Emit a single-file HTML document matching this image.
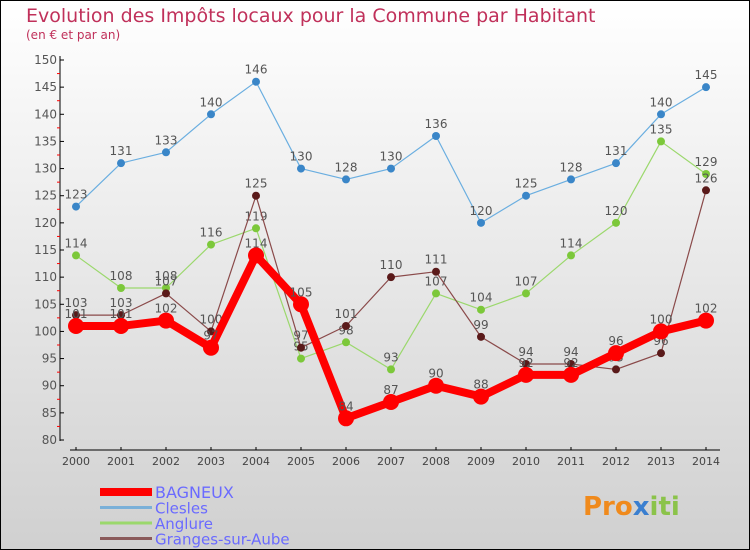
<!DOCTYPE html>
<html><head><meta charset="utf-8"><style>
body{margin:0}
svg{display:block;font-family:"DejaVu Sans","Liberation Sans",sans-serif}
</style></head><body>
<svg width="750" height="550">
<defs><linearGradient id="bg" x1="0" y1="0" x2="0" y2="1"><stop offset="0" stop-color="#ffffff"/><stop offset="1" stop-color="#d0d0d0"/></linearGradient></defs>
<rect x="0.5" y="0.5" width="749" height="549" fill="url(#bg)" stroke="#000"/>
<text x="26" y="22" font-size="19" fill="#c0305a">Evolution des Impôts locaux pour la Commune par Habitant</text>
<text x="26" y="39" font-size="12" fill="#c0305a">(en € et par an)</text>
<g id="axes"></g><g id="series"></g><g id="legend"></g>
<text x="583" y="515" font-size="26" font-weight="bold" fill="#f08a1c">Pro<tspan fill="#3a7fd0">x</tspan><tspan fill="#8bc34a">iti</tspan></text>
</svg>
<script>
const years=[2000,2001,2002,2003,2004,2005,2006,2007,2008,2009,2010,2011,2012,2013,2014];
const yTicks=[80,85,90,95,100,105,110,115,120,125,130,135,140,145,150];
const bagneux=[101,101,102,97,114,105,84,87,90,88,92,92,96,100,102];
const clesles=[123,131,133,140,146,130,128,130,136,120,125,128,131,140,145];
const anglure=[114,108,108,116,119,95,98,93,107,104,107,114,120,135,129];
const granges=[103,103,107,100,125,97,101,110,111,99,94,94,93,96,126];
const NS="http://www.w3.org/2000/svg";
const X=i=>76+i*45;
const Y=v=>440-(v-80)*(380/70);
function mk(t,a,p){const e=document.createElementNS(NS,t);for(const k in a)e.setAttribute(k,a[k]);p.appendChild(e);return e;}
const ax=document.getElementById('axes');
let yl=mk('line',{x1:60,y1:56,x2:60,y2:441,stroke:'#000'},ax);


yTicks.forEach(v=>{
 mk('line',{x1:60,y1:Y(v),x2:64,y2:Y(v),stroke:'#000'},ax);
 if(v<150)mk('line',{x1:57,y1:Y(v+2.5),x2:60,y2:Y(v+2.5),stroke:'#f00'},ax);
 const t=mk('text',{x:57,y:Y(v)+4,'font-size':12,'text-anchor':'end',fill:'#555'},ax);t.textContent=v;
 
 
});
let xl=mk('line',{x1:70,y1:450,x2:720,y2:450,stroke:'#000'},ax);


years.forEach((y,i)=>{
 mk('line',{x1:X(i),y1:447,x2:X(i),y2:450,stroke:'#000'},ax);
 const t=mk('text',{x:X(i),y:465,'font-size':11,'text-anchor':'middle',fill:'#444'},ax);t.textContent=y;
 
 
});
const sg=document.getElementById('series');
function series(name,vals,col,w,r,dot){
 const g=mk('g',{},sg);
 
 
 mk('polyline',{points:vals.map((v,i)=>X(i)+','+Y(v)).join(' '),fill:'none',stroke:col,'stroke-width':w,'stroke-linejoin':'round'},g);
 vals.forEach((v,i)=>{
  const c=mk('circle',{cx:X(i),cy:Y(v),r:r,fill:dot},g);
  
  
  const t=mk('text',{x:X(i),y:Y(v)-8,'font-size':12,'text-anchor':'middle',fill:'#555'},g);t.textContent=v;
 });
}
series('clesles',clesles,'#6aaee0',1.2,4,'#3a86c8');
series('anglure',anglure,'#9bd86c',1.2,4,'#7cc83a');
series('granges',granges,'#8a4a4a',1.2,4,'#5a1a1a');
series('bagneux',bagneux,'#f00',8,8,'#f00');
const lg=document.getElementById('legend');
[['BAGNEUX','#f00',8],['Clesles','#7ab0d8',3],['Anglure','#9bd86c',3],['Granges-sur-Aube','#8a5a5a',3]].forEach((d,i)=>{
 const y=492+i*15.5;
 const g=mk('g',{},lg);
 
 
 mk('line',{x1:100,y1:y,x2:152,y2:y,stroke:d[1],'stroke-width':d[2]},g);
 const t=mk('text',{x:155,y:y+6,'font-size':i==0?16:15,fill:'#6a6aff'},g);t.textContent=d[0];
});
</script>
</body></html>
